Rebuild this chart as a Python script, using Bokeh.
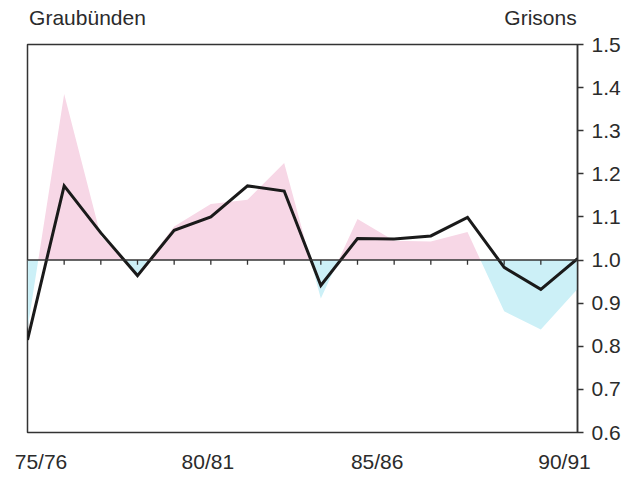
from bokeh.plotting import figure
from bokeh.models import Range1d, FixedTicker, Span, LinearAxis, ColumnDataSource
from bokeh.embed import file_html
from bokeh.resources import INLINE

# ---- data ----
seasons = ["75/76", "76/77", "77/78", "78/79", "79/80", "80/81", "81/82", "82/83",
           "83/84", "84/85", "85/86", "86/87", "87/88", "88/89", "89/90", "90/91"]
line_values = [0.815, 1.172, 1.063, 0.964, 1.069, 1.100, 1.172, 1.160,
               0.941, 1.050, 1.049, 1.056, 1.099, 0.983, 0.932, 1.003]
area_values = [0.84, 1.385, 1.055, 0.968, 1.078, 1.130, 1.140, 1.225,
               0.911, 1.095, 1.045, 1.043, 1.065, 0.881, 0.839, 0.933]
baseline = 1.0
x_tick_labels = ["75/76", "80/81", "85/86", "90/91"]
y_ticks = [0.6, 0.7, 0.8, 0.9, 1.0, 1.1, 1.2, 1.3, 1.4, 1.5]
title_left = "Graubünden"
title_right = "Grisons"

# ---- layout / styling ----
W, H = 643, 477
BL, BR, BT, BB = 27, 66, 44, 45
FONT = "Liberation Sans"
FS = "21px"
TXT = "#2b2b2b"
PINK = "#f7d7e6"
CYAN = "#ccf0f7"
label_dx = [13.5, -3, -17, -13]        # pixel shift of each x label from its tick
title_dx = [60, -37]                   # pixel shift of title centres from frame edges

n = len(seasons)
xi = list(range(n))
ppi = (W - BL - BR) / (xi[-1] - xi[0])   # pixels per index step

# area with inserted baseline crossings
ax, ay = [], []
for i in range(n):
    ax.append(xi[i]); ay.append(area_values[i])
    if i < n - 1 and (area_values[i] - baseline) * (area_values[i + 1] - baseline) < 0:
        t = (baseline - area_values[i]) / (area_values[i + 1] - area_values[i])
        ax.append(xi[i] + t); ay.append(baseline)
src = ColumnDataSource(dict(
    x=ax,
    base=[baseline] * len(ax),
    up=[max(v, baseline) for v in ay],
    dn=[min(v, baseline) for v in ay],
))

p = figure(width=W, height=H, x_range=Range1d(xi[0], xi[-1]),
           y_range=Range1d(y_ticks[0], y_ticks[-1]),
           output_backend="svg", toolbar_location=None,
           x_axis_location=None, y_axis_location="right",
           min_border_left=BL, min_border_right=BR,
           min_border_top=BT, min_border_bottom=BB)
p.grid.visible = False
p.background_fill_color = "white"
p.border_fill_color = "white"
p.outline_line_color = "#333333"
p.outline_line_width = 1.5
p.outline_line_alpha = 1.0

p.varea(x="x", y1="base", y2="up", source=src, fill_color=PINK)
p.varea(x="x", y1="base", y2="dn", source=src, fill_color=CYAN)

p.add_layout(Span(location=baseline, dimension="width", line_color="#333333", line_width=1.5))

tick_len = 0.011
p.segment(x0=xi[1:-1], y0=[baseline] * (n - 2), x1=xi[1:-1], y1=[baseline - tick_len] * (n - 2),
          line_color="#333333", line_width=1.3)

p.line(xi, line_values, line_color="#1a1a1a", line_width=3, line_join="miter")

ya = p.yaxis[0]
ya.ticker = FixedTicker(ticks=y_ticks)
ya.major_label_overrides = {t: f"{t:.1f}" for t in y_ticks}
ya.minor_tick_line_color = None
ya.major_tick_in = 0
ya.major_tick_out = 6
ya.major_tick_line_color = "#333333"
ya.major_tick_line_width = 1.3
ya.axis_line_color = "#333333"
ya.axis_line_width = 1.5
ya.major_label_standoff = 8
ya.major_label_text_font = FONT
ya.major_label_text_font_size = FS
ya.major_label_text_color = TXT


def text_axis(positions, texts, standoff):
    a = LinearAxis(ticker=FixedTicker(ticks=positions),
                   major_label_overrides=dict(zip(positions, texts)))
    a.axis_line_color = None
    a.major_tick_line_color = None
    a.minor_tick_line_color = None
    a.major_tick_in = 0
    a.major_tick_out = 0
    a.major_label_standoff = standoff
    a.major_label_text_font = FONT
    a.major_label_text_font_size = FS
    a.major_label_text_color = TXT
    return a


xpos = [seasons.index(lab) + dx / ppi for lab, dx in zip(x_tick_labels, label_dx)]
p.add_layout(text_axis(xpos, x_tick_labels, 17), "below")

tpos = [xi[0] + title_dx[0] / ppi, xi[-1] + title_dx[1] / ppi]
p.add_layout(text_axis(tpos, [title_left, title_right], 16), "above")

open("out.html", "w").write(file_html(p, INLINE))
